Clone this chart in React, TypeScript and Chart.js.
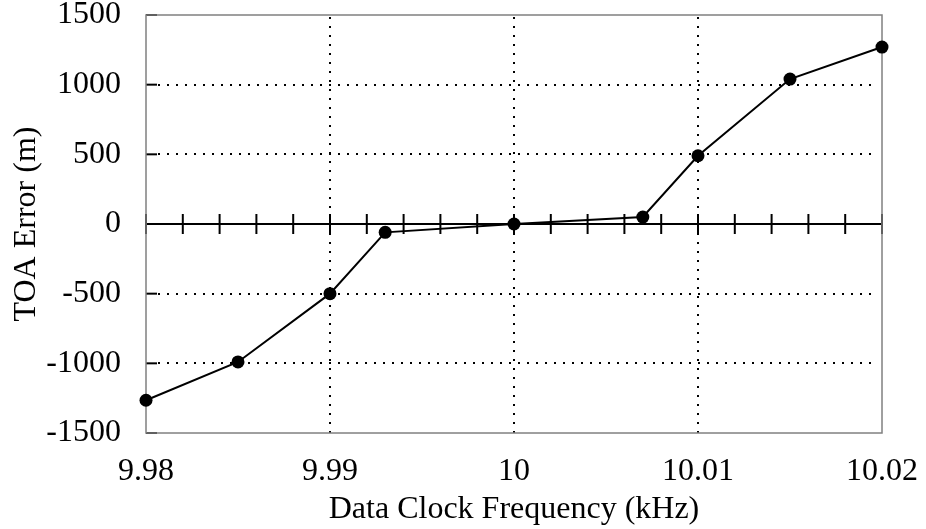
import React, { useEffect, useRef } from "react";
import { Chart, registerables } from "chart.js";

Chart.register(...registerables);

const freqKHz = [9.98, 9.985, 9.99, 9.993, 10, 10.007, 10.01, 10.015, 10.02];
const toaErrorM = [-1265, -990, -500, -60, 0, 50, 490, 1040, 1270];
const xTickValues = [9.98, 9.99, 10, 10.01, 10.02];
const xGridValues = [9.99, 10, 10.01];
const yGridValues = [1000, 500, -500, -1000];
const yTickValues = [-1500, -1000, -500, 0, 500, 1000, 1500];
const zeroAxisTicks = [9.98, 9.982, 9.984, 9.986, 9.988, 9.99, 9.992, 9.994, 9.996, 9.998, 10, 10.002, 10.004, 10.006, 10.008, 10.01, 10.012, 10.014, 10.016, 10.018, 10.02];

const FONT = "'Liberation Serif', 'Times New Roman', serif";
const FS = 32;

const decorPlugin = {
  id: "decor",
  beforeDatasetsDraw(chart: any) {
    const { ctx, chartArea, scales } = chart;
    const { left, right, top, bottom } = chartArea;
    const xs = scales.x;
    const ys = scales.y;
    ctx.save();
    ctx.strokeStyle = "#000";
    ctx.lineWidth = 2;
    ctx.lineCap = "butt";
    ctx.setLineDash([2, 7]);
    for (const v of yGridValues) {
      const y = Math.round(ys.getPixelForValue(v));
      ctx.beginPath();
      ctx.moveTo(left + 12, y);
      ctx.lineTo(right - 6, y);
      ctx.stroke();
    }
    for (const v of xGridValues) {
      const x = Math.round(xs.getPixelForValue(v));
      ctx.beginPath();
      ctx.moveTo(x, top + 2);
      ctx.lineTo(x, bottom);
      ctx.stroke();
    }
    ctx.setLineDash([]);
    const y0 = ys.getPixelForValue(0);
    ctx.lineWidth = 2;
    ctx.beginPath();
    ctx.moveTo(left, y0);
    ctx.lineTo(right, y0);
    ctx.stroke();
    for (const v of zeroAxisTicks) {
      const x = xs.getPixelForValue(v);
      ctx.beginPath();
      ctx.moveTo(x, y0 - 10);
      ctx.lineTo(x, y0 + 10);
      ctx.stroke();
    }
    for (const v of yTickValues) {
      const y = ys.getPixelForValue(v);
      ctx.beginPath();
      ctx.moveTo(left, y);
      ctx.lineTo(left + 11, y);
      ctx.stroke();
    }
    ctx.strokeStyle = "#808080";
    ctx.lineWidth = 1.5;
    ctx.strokeRect(left, top, right - left, bottom - top);
    ctx.restore();
  },
};

export default function App() {
  const ref = useRef<HTMLCanvasElement>(null);
  useEffect(() => {
    document.body.style.margin = "0";
    const chart = new Chart(ref.current!, {
      type: "scatter",
      data: {
        datasets: [
          {
            data: freqKHz.map((x, i) => ({ x, y: toaErrorM[i] })),
            showLine: true,
            borderColor: "#000",
            borderWidth: 2,
            backgroundColor: "#000",
            pointBackgroundColor: "#000",
            pointBorderColor: "#000",
            pointRadius: 6.5,
            pointBorderWidth: 0,
            clip: false,
          } as any,
        ],
      },
      options: {
        animation: false,
        responsive: false,
        maintainAspectRatio: false,
        layout: { padding: { top: 15, right: 44, left: 0, bottom: 0 } },
        plugins: { legend: { display: false }, tooltip: { enabled: false } },
        scales: {
          x: {
            type: "linear",
            min: 9.98,
            max: 10.02,
            afterBuildTicks: (s: any) => {
              s.ticks = xTickValues.map((v) => ({ value: v }));
            },
            afterFit: (s: any) => {
              s.height = 96;
              s.paddingLeft = 0;
              s.paddingRight = 0;
            },
            grid: { display: false, drawTicks: false },
            border: { display: false },
            ticks: {
              color: "#000",
              font: { family: FONT, size: FS },
              padding: 19,
              maxRotation: 0,
              callback: (v: any) => String(Number(v)),
            },
            title: {
              display: true,
              text: "Data Clock Frequency (kHz)",
              color: "#000",
              font: { family: FONT, size: FS },
              padding: { top: 0, bottom: 0 },
            },
          },
          y: {
            type: "linear",
            min: -1500,
            max: 1500,
            afterBuildTicks: (s: any) => {
              s.ticks = yTickValues.map((v) => ({ value: v }));
            },
            afterFit: (s: any) => {
              s.width = 146;
              s.paddingTop = 0;
              s.paddingBottom = 0;
            },
            grid: { display: false, drawTicks: false },
            border: { display: false },
            ticks: {
              color: "#000",
              font: { family: FONT, size: FS },
              padding: 25,
              callback: (v: any) => String(v),
            },
            title: {
              display: true,
              text: "TOA Error (m)",
              color: "#000",
              font: { family: FONT, size: FS },
              padding: { top: 7, bottom: 0 },
            },
          },
        },
      },
      plugins: [decorPlugin],
    });
    return () => chart.destroy();
  }, []);
  return (
    <div style={{ width: 926, height: 529, background: "#fff" }}>
      <canvas ref={ref} width={926} height={529} style={{ display: "block" }} />
    </div>
  );
}
